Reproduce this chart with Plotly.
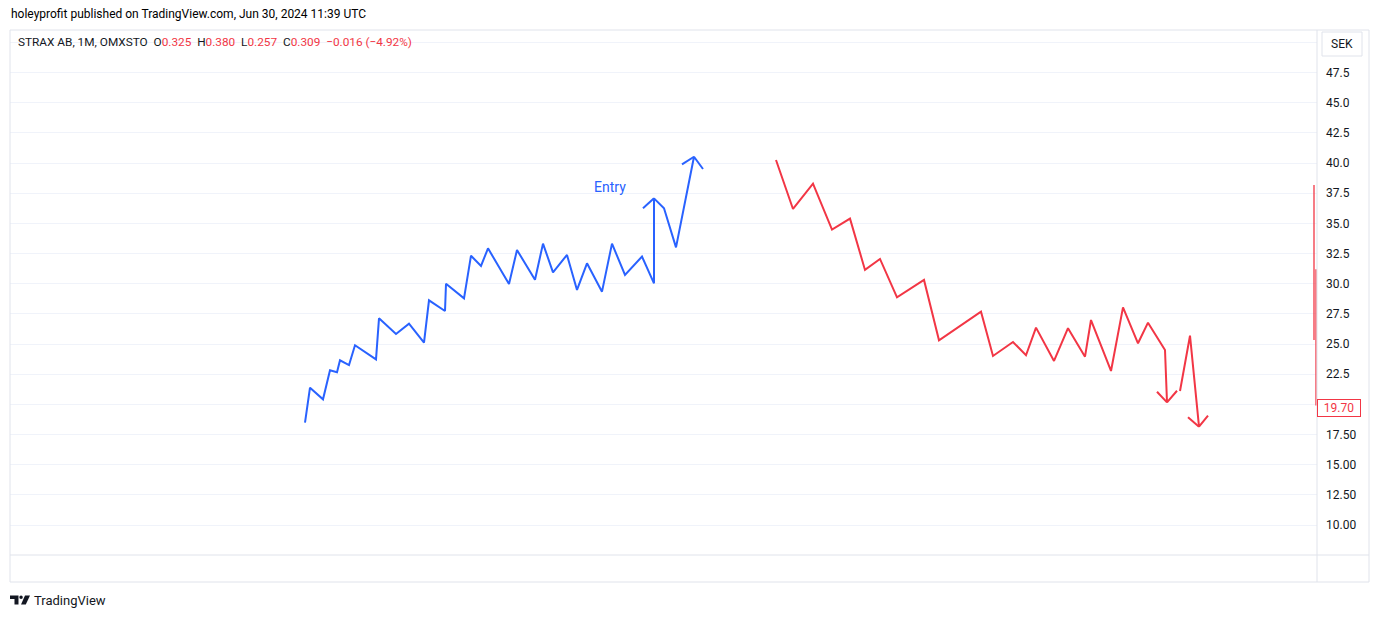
import plotly.graph_objects as go

# ---------------- data ----------------
# x = bar index (time), y = price in SEK
blue_t = [29.5, 30.0, 31.3, 32.0, 32.7, 33.0, 33.9, 34.5, 36.6, 36.9, 38.6, 39.9, 41.4, 41.9,
          43.5, 43.6, 45.4, 46.1, 47.1, 47.8, 49.9, 50.7, 52.5, 53.3, 54.3, 55.7, 56.7, 57.7,
          59.2, 60.2, 61.5, 63.2, 64.4, 64.4, 65.4, 66.6, 68.4, 69.3]
blue_v = [18.48, 21.38, 20.42, 22.82, 22.66, 23.65, 23.26, 24.90, 23.73, 27.13, 25.83, 26.69, 25.11, 28.62,
          27.74, 30.00, 28.79, 32.32, 31.47, 32.93, 29.98, 32.79, 30.33, 33.32, 30.94, 32.38, 29.48, 31.69,
          29.34, 33.32, 30.72, 32.24, 30.03, 37.07, 36.25, 33.01, 40.52, 39.50]
# arrow-head left arms of the blue path (None separates segments)
blue_arm_t = [63.3, 64.4, None, 67.2, 68.4]
blue_arm_v = [36.25, 37.07, None, 39.89, 40.52]

red_t = [76.6, 78.3, 80.3, 82.2, 84.0, 85.5, 87.0, 88.7, 91.4, 92.9, 97.1, 98.3, 100.3, 101.6,
         102.6, 104.4, 105.8, 107.5, 108.1, 110.1, 111.3, 112.8, 113.8, 115.5, 115.7, 116.7,
         None, 117.0, 118.0, 118.9, 119.8]
red_v = [40.25, 36.19, 38.29, 34.48, 35.39, 31.14, 32.05, 28.87, 30.31, 25.31, 27.68, 24.01, 25.17, 24.07,
         26.36, 23.60, 26.31, 23.95, 26.99, 22.77, 28.04, 25.06, 26.77, 24.51, 20.17, 21.13,
         None, 21.11, 25.69, 18.15, 19.06]
red_arm_t = [114.7, 115.7, None, 117.8, 118.9]
red_arm_v = [21.05, 20.17, None, 18.93, 18.15]

# thin red bars at the right edge (last candle ranges)
edge_t = [130.4, 130.4, None, 130.6, 130.6]
edge_v = [38.18, 25.34, None, 31.19, 19.9]

last_price = 19.70
tick_vals = [50.0, 47.5, 45.0, 42.5, 40.0, 37.5, 35.0, 32.5, 30.0, 27.5, 25.0, 22.5, 20.0,
             17.5, 15.0, 12.5, 10.0, 7.5]
tick_text = ["", "47.5", "45.0", "42.5", "40.0", "37.5", "35.0", "32.5", "30.0", "27.5", "25.0",
             "22.5", "", "17.50", "15.00", "12.50", "10.00", ""]

title_text = "holeyprofit published on TradingView.com, Jun 30, 2024 11:39 UTC"
legend_name = "STRAX AB, 1M, OMXSTO"
ohlc = [("O", "0.325"), ("H", "0.380"), ("L", "0.257"), ("C", "0.309")]
change_text = "\u22120.016 (\u22124.92%)"

BLUE = "#2962FF"
RED = "#F23645"
TXT = "#131722"
BORDER = "#E0E3EB"
GRID = "#F0F3FA"
FONT = "Roboto, Noto Sans, sans-serif"

OFF = 8  # page body margin
W, H = 1379 - OFF, 618 - OFF
# plot area in screen pixels: x 10..1317, y 30..555
SX0, SX1, SY0, SY1 = 10, 1317, 30, 555
L, R, T, B = SX0 - OFF, W - (SX1 - OFF), SY0 - OFF, H - (SY1 - OFF)
PW, PH = SX1 - SX0, SY1 - SY0


def px(x):
    return (x - SX0) / PW


def py(y):
    return (SY1 - y) / PH


fig = go.Figure()
fig.add_trace(go.Scatter(x=blue_t, y=blue_v, mode="lines", line=dict(color=BLUE, width=2),
                         hoverinfo="skip", showlegend=False))
fig.add_trace(go.Scatter(x=blue_arm_t, y=blue_arm_v, mode="lines", line=dict(color=BLUE, width=2),
                         hoverinfo="skip", showlegend=False))
fig.add_trace(go.Scatter(x=red_t, y=red_v, mode="lines", line=dict(color=RED, width=2),
                         hoverinfo="skip", showlegend=False))
fig.add_trace(go.Scatter(x=red_arm_t, y=red_arm_v, mode="lines", line=dict(color=RED, width=2),
                         hoverinfo="skip", showlegend=False))
fig.add_trace(go.Scatter(x=edge_t, y=edge_v, mode="lines", line=dict(color=RED, width=1.3),
                         hoverinfo="skip", showlegend=False, cliponaxis=False))

shapes = []
# outer frame
shapes.append(dict(type="rect", xref="paper", yref="paper", x0=px(10), x1=px(1369), y0=py(582), y1=py(30),
                   line=dict(color=BORDER, width=1), fillcolor="rgba(0,0,0,0)", layer="above"))
shapes.append(dict(type="line", xref="paper", yref="paper", x0=px(10), x1=px(1369), y0=py(555), y1=py(555),
                   line=dict(color=BORDER, width=1)))
shapes.append(dict(type="line", xref="paper", yref="paper", x0=px(1317), x1=px(1317), y0=py(582), y1=py(30),
                   line=dict(color=BORDER, width=1)))
# SEK button
shapes.append(dict(type="rect", xref="paper", yref="paper", x0=px(1322), x1=px(1362), y0=py(56), y1=py(32),
                   line=dict(color=BORDER, width=1), fillcolor="white"))


# TradingView logo glyph
def path(pts):
    return "M " + " L ".join(f"{px(a):.5f},{py(b):.5f}" for a, b in pts) + " Z"


shapes.append(dict(type="path", xref="paper", yref="paper",
                   path=path([(10, 595.5), (18.5, 595.5), (18.5, 604.5), (14.5, 604.5), (14.5, 599), (10, 599)]),
                   fillcolor=TXT, line=dict(width=0)))
shapes.append(dict(type="circle", xref="paper", yref="paper", x0=px(19.3), x1=px(22.8), y0=py(599), y1=py(595.5),
                   fillcolor=TXT, line=dict(width=0)))
shapes.append(dict(type="path", xref="paper", yref="paper",
                   path=path([(25, 595.5), (30, 595.5), (25.8, 604.5), (21, 604.5)]),
                   fillcolor=TXT, line=dict(width=0)))

annotations = []
annotations.append(dict(text=title_text, xref="paper", yref="paper", x=px(9), y=py(14), xanchor="left",
                        yanchor="middle", showarrow=False, font=dict(family=FONT, size=12, color="#000000")))
legend_html = legend_name + "&nbsp;&nbsp;" + "&nbsp;&nbsp;".join(
    f"{k}<span style='color:{RED}'>{v}</span>" for k, v in ohlc) + f"&nbsp;&nbsp;<span style='color:{RED}'>{change_text}</span>"
annotations.append(dict(text=legend_html, xref="paper", yref="paper", x=px(16), y=py(42), xanchor="left",
                        yanchor="middle", showarrow=False, font=dict(family=FONT, size=11.8, color=TXT)))
annotations.append(dict(text="SEK", xref="paper", yref="paper", x=px(1342), y=py(44), xanchor="center",
                        yanchor="middle", showarrow=False, font=dict(family=FONT, size=12, color=TXT)))
annotations.append(dict(text="Entry", x=60.0, y=38.0, xanchor="center", yanchor="middle", showarrow=False,
                        font=dict(family=FONT, size=14, color=BLUE)))
annotations.append(dict(text=f"{last_price:.2f}", xref="paper", yref="y", x=px(1317), y=last_price,
                        xanchor="left", yanchor="middle", showarrow=False, bgcolor="white",
                        bordercolor=RED, borderwidth=1, borderpad=1,
                        font=dict(family=FONT, size=12, color=RED), width=40))
annotations.append(dict(text="TradingView", xref="paper", yref="paper", x=px(32), y=py(600), xanchor="left",
                        yanchor="middle", showarrow=False, font=dict(family=FONT, size=13, color=TXT)))

fig.update_layout(
    width=W, height=H, margin=dict(l=L, r=R, t=T, b=B),
    paper_bgcolor="white", plot_bgcolor="white",
    xaxis=dict(range=[0, PW / 10], showgrid=False, zeroline=False, showticklabels=False, ticks="",
               showline=False, fixedrange=True),
    yaxis=dict(range=[7.52, 51.02], side="right", tickmode="array", tickvals=tick_vals, ticktext=tick_text,
               showgrid=True, gridcolor=GRID, gridwidth=1, zeroline=False, showline=False, ticks="",
               ticklabelstandoff=8, tickfont=dict(family=FONT, size=12, color=TXT)),
    shapes=shapes, annotations=annotations, showlegend=False,
)

fig.write_html("out.html")
